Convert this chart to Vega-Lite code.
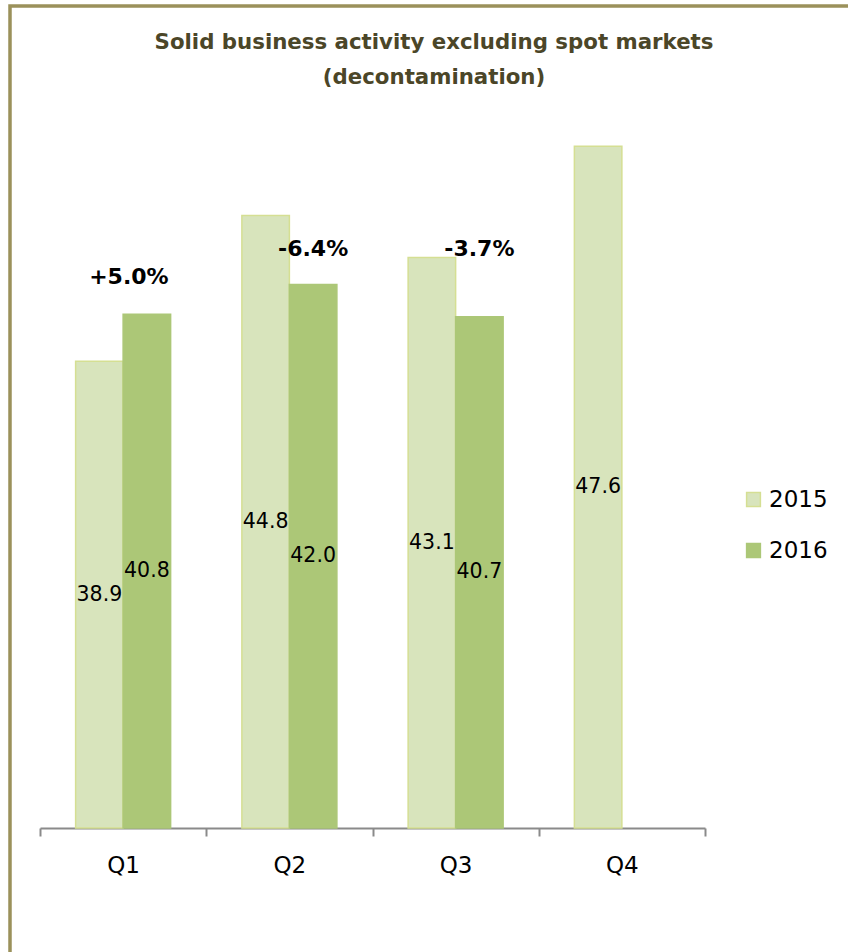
{
  "$schema": "https://vega.github.io/schema/vega-lite/v6.json",
  "width": 848,
  "height": 952,
  "autosize": {"type": "none"},
  "padding": {"left": 10, "top": 6, "right": 0, "bottom": 0},
  "background": "white",
  "title": {
    "text": ["Solid business activity excluding spot markets", "(decontamination)"],
    "orient": "top",
    "anchor": "middle",
    "frame": "group",
    "baseline": "top",
    "offset": -82,
    "font": "DejaVu Sans",
    "fontSize": 21.3,
    "fontWeight": "bold",
    "color": "#4b4628",
    "lineHeight": 35
  },
  "config": {
    "view": {"stroke": "#9b915b", "strokeWidth": 3.5, "fill": "white"},
    "font": "DejaVu Sans"
  },
  "datasets": {
    "sales": [
      {"quarter": "Q1", "series": "2015", "value": 38.9},
      {"quarter": "Q1", "series": "2016", "value": 40.8},
      {"quarter": "Q2", "series": "2015", "value": 44.8},
      {"quarter": "Q2", "series": "2016", "value": 42.0},
      {"quarter": "Q3", "series": "2015", "value": 43.1},
      {"quarter": "Q3", "series": "2016", "value": 40.7},
      {"quarter": "Q4", "series": "2015", "value": 47.6}
    ],
    "changes": [
      {"quarter": "Q1", "series": "2016", "label": "+5.0%", "level": 42.3},
      {"quarter": "Q2", "series": "2016", "label": "-6.4%", "level": 43.45},
      {"quarter": "Q3", "series": "2016", "label": "-3.7%", "level": 43.45}
    ]
  },
  "layer": [
    {
      "data": {"name": "sales"},
      "mark": {"type": "bar", "strokeWidth": 1.5},
      "encoding": {
        "x": {
          "field": "quarter",
          "type": "nominal",
          "sort": ["Q1", "Q2", "Q3", "Q4"],
          "scale": {"domain": ["Q1", "Q2", "Q3", "Q4"], "range": [30, 695], "paddingInner": 0, "paddingOuter": 0},
          "axis": {
            "title": null,
            "orient": "bottom",
            "offset": -130,
            "tickBand": "extent",
            "labelAngle": 0,
            "domainColor": "#8a8a8a",
            "domainWidth": 2,
            "tickColor": "#8a8a8a",
            "tickWidth": 2,
            "tickSize": 8,
            "labelFontSize": 23,
            "labelColor": "#000000",
            "labelPadding": 18,
            "labelFont": "DejaVu Sans"
          }
        },
        "xOffset": {
          "field": "series",
          "type": "nominal",
          "scale": {"domain": ["2015", "2016"], "paddingInner": 0, "paddingOuter": 0.75}
        },
        "y": {
          "field": "value",
          "type": "quantitative",
          "scale": {"domain": [20, 50], "range": [822, 81], "zero": false, "nice": false},
          "axis": null
        },
        "y2": {"datum": 20},
        "fill": {
          "field": "series",
          "type": "nominal",
          "scale": {"domain": ["2015", "2016"], "range": ["#d8e4bc", "#acc777"]},
          "legend": {
            "title": null,
            "orient": "none",
            "legendX": 732,
            "legendY": 482,
            "padding": 0,
            "symbolType": "square",
            "symbolSize": 190,
            "symbolStrokeWidth": 1.5,
            "labelFontSize": 23,
            "labelColor": "#000000",
            "labelOffset": 4,
            "rowPadding": 27,
            "labelFont": "DejaVu Sans"
          }
        },
        "stroke": {
          "field": "series",
          "type": "nominal",
          "scale": {"domain": ["2015", "2016"], "range": ["#d5df93", "#acc777"]},
          "legend": null
        }
      }
    },
    {
      "data": {"name": "sales"},
      "transform": [{"calculate": "(datum.value + 20) / 2", "as": "mid"}],
      "mark": {"type": "text", "fontSize": 20.5, "color": "#000000", "baseline": "middle", "align": "center"},
      "encoding": {
        "x": {"field": "quarter", "type": "nominal", "sort": ["Q1", "Q2", "Q3", "Q4"]},
        "xOffset": {"field": "series", "type": "nominal"},
        "y": {"field": "mid", "type": "quantitative"},
        "text": {"field": "value", "type": "quantitative", "format": ".1f"}
      }
    },
    {
      "data": {"name": "changes"},
      "mark": {
        "type": "text",
        "fontSize": 22,
        "fontWeight": "bold",
        "color": "#000000",
        "baseline": "middle",
        "align": "center",
        "dx": {"expr": "datum.quarter === 'Q1' ? -18 : 0"}
      },
      "encoding": {
        "x": {"field": "quarter", "type": "nominal", "sort": ["Q1", "Q2", "Q3", "Q4"]},
        "xOffset": {"field": "series", "type": "nominal"},
        "y": {"field": "level", "type": "quantitative"},
        "text": {"field": "label", "type": "nominal"}
      }
    }
  ]
}
